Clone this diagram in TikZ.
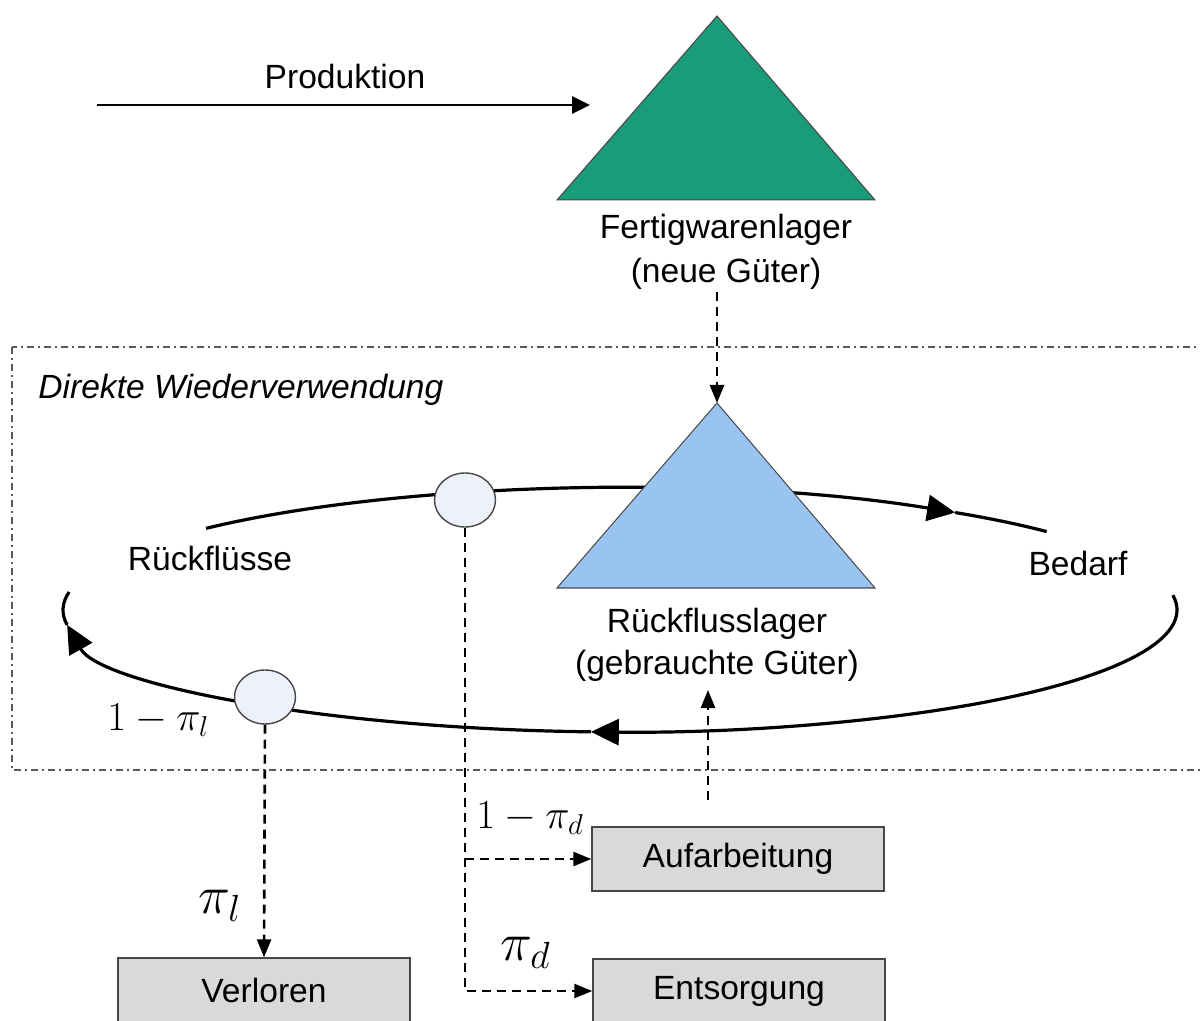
\RequirePackage{fix-cm}
\documentclass[tikz,border=0pt]{standalone}
\usepackage{fontspec}
\setmainfont{Liberation Sans}
\usetikzlibrary{arrows.meta,shapes.geometric}

\definecolor{stockgreen}{RGB}{26,155,122}
\definecolor{stockblue}{RGB}{153,196,242}
\definecolor{nodefill}{RGB}{238,240,250}
\definecolor{boxfill}{RGB}{217,217,217}
\definecolor{edgegray}{RGB}{70,70,70}

\begin{document}
\begin{tikzpicture}[x=0.5pt,y=-0.5pt,
  txt/.style={font=\fontsize{16.8}{21}\selectfont, inner sep=0pt, align=center},
  mathsmall/.style={font=\fontsize{20.5}{24}\selectfont, inner sep=0pt},
  mathbig/.style={font=\fontsize{27}{32}\selectfont, inner sep=0pt},
  loop/.style={line width=1.6pt},
  looptip/.style={-{Triangle[length=14pt,width=13pt]}},
  solidflow/.style={line width=1.4pt, -{Triangle[length=9pt,width=8.5pt]}},
  dflow/.style={line width=1.3pt, dash pattern=on 4.5pt off 3pt},
  dtip/.style={-{Triangle[length=9pt,width=7pt]}},
  stock/.style={draw=edgegray, line width=0.5pt},
  junction/.style={ellipse, draw=edgegray, fill=nodefill, line width=0.7pt,
    minimum width=30.5pt, minimum height=27pt, inner sep=0pt},
  sink/.style={rectangle, draw=edgegray, fill=boxfill, line width=0.7pt,
    minimum width=146pt, minimum height=32pt, inner sep=0pt,
    font=\fontsize{16.8}{21}\selectfont},
  area/.style={draw=black!65, line width=0.7pt,
    dash pattern=on 3.5pt off 2pt on 1pt off 2pt}
]
\clip (0,0) rectangle (1200,1021);

% region of direct reuse
\draw[area] (12,347) rectangle (1215,770);
\node[txt, anchor=west, font=\fontsize{16.8}{21}\selectfont\itshape] (reuse) at (38,390) {Direkte Wiederverwendung};

% production inflow
\coordinate (prodstart) at (97,105);
\coordinate (prodend) at (590,105);
\draw[solidflow] (prodstart) -- (prodend);
\node[txt] (prodlbl) at (345,76) {Produktion};

% finished goods stock
\coordinate (fwtop) at (717,16);
\coordinate (fwleft) at (557,200);
\coordinate (fwright) at (875,200);
\fill[stockgreen] (fwtop) -- (fwleft) -- (fwright) -- cycle;
\draw[stock] (fwtop) -- (fwleft) -- (fwright) -- cycle;
\node[txt, font=\fontsize{16.8}{22}\selectfont] (fwlbl) at (726,252) {Fertigwarenlager\\(neue Güter)};

% demand / return loop
\begin{scope}[shift={(620,610)}, loop]
  \draw[looptip] (222:557 and 122) arc[start angle=222, end angle=307, x radius=557, y radius=122];
  \draw (307:557 and 122) arc[start angle=307, end angle=320, x radius=557, y radius=122];
  \draw[looptip] (-7:557 and 122) arc[start angle=-7, end angle=93, x radius=557, y radius=122];
  \draw[looptip] (93:557 and 122) arc[start angle=93, end angle=173, x radius=557, y radius=122];
  \draw (173:557 and 122) arc[start angle=173, end angle=188.5, x radius=557, y radius=122];
\end{scope}
\node[txt] (ruecklbl) at (210,558) {Rückflüsse};
\node[txt] (bedarflbl) at (1078,563) {Bedarf};

% return stock
\coordinate (rftop) at (717,403);
\coordinate (rfleft) at (557,588);
\coordinate (rfright) at (875,588);
\fill[stockblue] (rftop) -- (rfleft) -- (rfright) -- cycle;
\draw[stock] (rftop) -- (rfleft) -- (rfright) -- cycle;
\node[txt, font=\fontsize{16.8}{21}\selectfont] (rflbl) at (717,645) {Rückflusslager\\(gebrauchte Güter)};

% junctions on the loop
\node[junction] (jd) at (465,500) {};
\node[junction] (jl) at (265,697) {};
\node[mathsmall, anchor=base west] (lossrest) at (107,730) {$1-\pi_l$};

% sinks
\node[sink] (verloren) at (264,990) {Verloren};
\node[sink] (aufarb) at (738,859) {Aufarbeitung};
\node[sink] (entsorg) at (739,991) {Entsorgung};

% dashed flows
\coordinate (fwout) at (717,292);
\draw[dflow, dtip] (fwout) -- (rftop);
\draw[dflow, dtip] (jl.south) -- (verloren.north);
\draw[dflow, dtip] (jd.south) |- (entsorg.west);
\coordinate (branch) at (jd.south |- aufarb.west);
\draw[dflow, dtip] (branch) -- (aufarb.west);
\coordinate (aufout) at (708,800);
\coordinate (rfin) at (708,690);
\draw[dflow, dtip] (aufout) -- (rfin);

% probabilities
\node[mathbig, anchor=base west] (pil) at (198,913) {$\pi_l$};
\node[mathsmall, anchor=base west] (remrest) at (476,828) {$1-\pi_d$};
\node[mathbig, anchor=base west] (pid) at (500,960) {$\pi_d$};
\end{tikzpicture}
\end{document}
